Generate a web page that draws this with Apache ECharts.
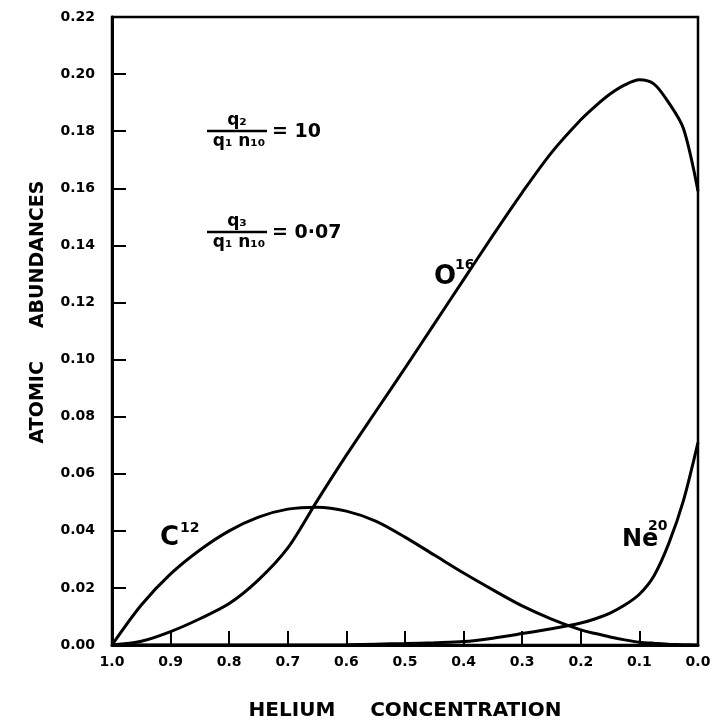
<!DOCTYPE html>
<html>
<head>
<meta charset="utf-8">
<script src="https://cdn.jsdelivr.net/npm/echarts@6/dist/echarts.min.js"></script>
<style>html,body{margin:0;padding:0;background:#fff;}#c{width:713px;height:722px;}</style>
</head>
<body>
<div id="c"></div>
<script>
// Helium concentration (x) sample points
const helium = [1.0, 0.95, 0.9, 0.85, 0.8, 0.75, 0.7, 0.65, 0.6, 0.55, 0.5, 0.45, 0.4, 0.35, 0.3, 0.25, 0.2, 0.175, 0.15, 0.125, 0.1, 0.075, 0.05, 0.025, 0.0];
// Atomic abundances
const o16  = [0, 0.0013, 0.0047, 0.0092, 0.0145, 0.0228, 0.0340, 0.0505, 0.0665, 0.0818, 0.0970, 0.1125, 0.1280, 0.1435, 0.1585, 0.1725, 0.1840, 0.1888, 0.1930, 0.1962, 0.1980, 0.1965, 0.1900, 0.1810, 0.1590];
const c12  = [0, 0.0140, 0.0249, 0.0333, 0.0400, 0.0448, 0.0476, 0.0483, 0.0469, 0.0434, 0.0378, 0.0315, 0.0252, 0.0193, 0.0137, 0.0091, 0.0053, 0.0040, 0.0028, 0.0018, 0.0010, 0.0006, 0.0003, 0.0001, 0.0];
const ne20 = [0, 0, 0, 0, 0, 0, 0, 0, 0.0001, 0.0003, 0.0005, 0.0008, 0.0012, 0.0024, 0.0040, 0.0057, 0.0077, 0.0092, 0.0112, 0.0140, 0.0178, 0.0243, 0.0355, 0.0505, 0.0710];
const xTicks = ['1.0','0.9','0.8','0.7','0.6','0.5','0.4','0.3','0.2','0.1','0.0'];
const yTicks = ['0.00','0.02','0.04','0.06','0.08','0.10','0.12','0.14','0.16','0.18','0.20','0.22'];

const pairs = arr => helium.map((h, i) => [h, arr[i]]);
const FONT = '"DejaVu Sans", sans-serif';

const chart = echarts.init(document.getElementById('c'), null, {renderer: 'canvas'});
const lineStyle = {color: '#000', width: 3};

chart.setOption({
  animation: false,
  backgroundColor: '#fff',
  grid: {left: 112, right: 15, top: 17, bottom: 77, outerBoundsMode: 'none', containLabel: false,
    show: true, borderColor: '#000', borderWidth: 2.5, backgroundColor: 'transparent'},
  xAxis: {
    type: 'value', min: 0, max: 1, interval: 0.1, inverse: true,
    name: 'HELIUM     CONCENTRATION', nameLocation: 'middle', nameGap: 56,
    nameTextStyle: {fontFamily: FONT, fontWeight: 'bold', fontSize: 20, color: '#000'},
    axisLine: {show: true, onZero: false, lineStyle: {color: '#000', width: 3}},
    axisTick: {show: true, inside: true, length: 14, lineStyle: {color: '#000', width: 2}},
    axisLabel: {margin: 10, fontFamily: FONT, fontWeight: 'bold', fontSize: 14, color: '#000',
      formatter: v => xTicks[Math.round((1 - v) * 10)]},
    splitLine: {show: false}
  },
  yAxis: {
    type: 'value', min: 0, max: 0.22, interval: 0.02, position: 'left',
    axisLine: {show: true, onZero: false, lineStyle: {color: '#000', width: 3}},
    axisTick: {show: true, inside: true, length: 14, lineStyle: {color: '#000', width: 2}},
    axisLabel: {margin: 17, fontFamily: FONT, fontWeight: 'bold', fontSize: 14, color: '#000',
      formatter: v => yTicks[Math.round(v / 0.02)]},
    splitLine: {show: false}
  },
  series: [
    {name: 'O16', type: 'line', data: pairs(o16), smooth: 0.3, showSymbol: false, lineStyle: lineStyle},
    {name: 'C12', type: 'line', data: pairs(c12), smooth: 0.3, showSymbol: false, lineStyle: lineStyle},
    {name: 'Ne20', type: 'line', data: pairs(ne20), smooth: 0.3, showSymbol: false, lineStyle: lineStyle}
  ],
  graphic: [
    {type: 'text', x: 38, y: 312, rotation: Math.PI / 2, style: {text: 'ATOMIC     ABUNDANCES', font: 'bold 19px ' + FONT, fill: '#000', align: 'center', verticalAlign: 'middle'}},
    // curve labels
    {type: 'text', x: 160, y: 551, style: {text: 'C', font: 'bold 26px ' + FONT, fill: '#000', align: 'left', verticalAlign: 'bottom'}},
    {type: 'text', x: 180, y: 521, style: {text: '12', font: 'bold 14px ' + FONT, fill: '#000', align: 'left', verticalAlign: 'top'}},
    {type: 'text', x: 434, y: 290, style: {text: 'O', font: 'bold 26px ' + FONT, fill: '#000', align: 'left', verticalAlign: 'bottom'}},
    {type: 'text', x: 455, y: 258, style: {text: '16', font: 'bold 14px ' + FONT, fill: '#000', align: 'left', verticalAlign: 'top'}},
    {type: 'text', x: 622, y: 552, style: {text: 'Ne', font: 'bold 24px ' + FONT, fill: '#000', align: 'left', verticalAlign: 'bottom'}},
    {type: 'text', x: 648, y: 519, style: {text: '20', font: 'bold 14px ' + FONT, fill: '#000', align: 'left', verticalAlign: 'top'}},
    // formula 1
    {type: 'text', x: 237, y: 129, style: {text: 'q\u2082', font: 'bold 17px ' + FONT, fill: '#000', align: 'center', verticalAlign: 'bottom'}},
    {type: 'line', shape: {x1: 207, y1: 131, x2: 267, y2: 131}, style: {stroke: '#000', lineWidth: 2.5}},
    {type: 'text', x: 239, y: 133, style: {text: 'q\u2081 n\u2081\u2080', font: 'bold 17px ' + FONT, fill: '#000', align: 'center', verticalAlign: 'top'}},
    {type: 'text', x: 272, y: 132, style: {text: '= 10', font: 'bold 19px ' + FONT, fill: '#000', align: 'left', verticalAlign: 'middle'}},
    // formula 2
    {type: 'text', x: 237, y: 230, style: {text: 'q\u2083', font: 'bold 17px ' + FONT, fill: '#000', align: 'center', verticalAlign: 'bottom'}},
    {type: 'line', shape: {x1: 207, y1: 232, x2: 267, y2: 232}, style: {stroke: '#000', lineWidth: 2.5}},
    {type: 'text', x: 239, y: 234, style: {text: 'q\u2081 n\u2081\u2080', font: 'bold 17px ' + FONT, fill: '#000', align: 'center', verticalAlign: 'top'}},
    {type: 'text', x: 272, y: 233, style: {text: '= 0\u00b707', font: 'bold 19px ' + FONT, fill: '#000', align: 'left', verticalAlign: 'middle'}}
  ]
});
</script>
</body>
</html>
